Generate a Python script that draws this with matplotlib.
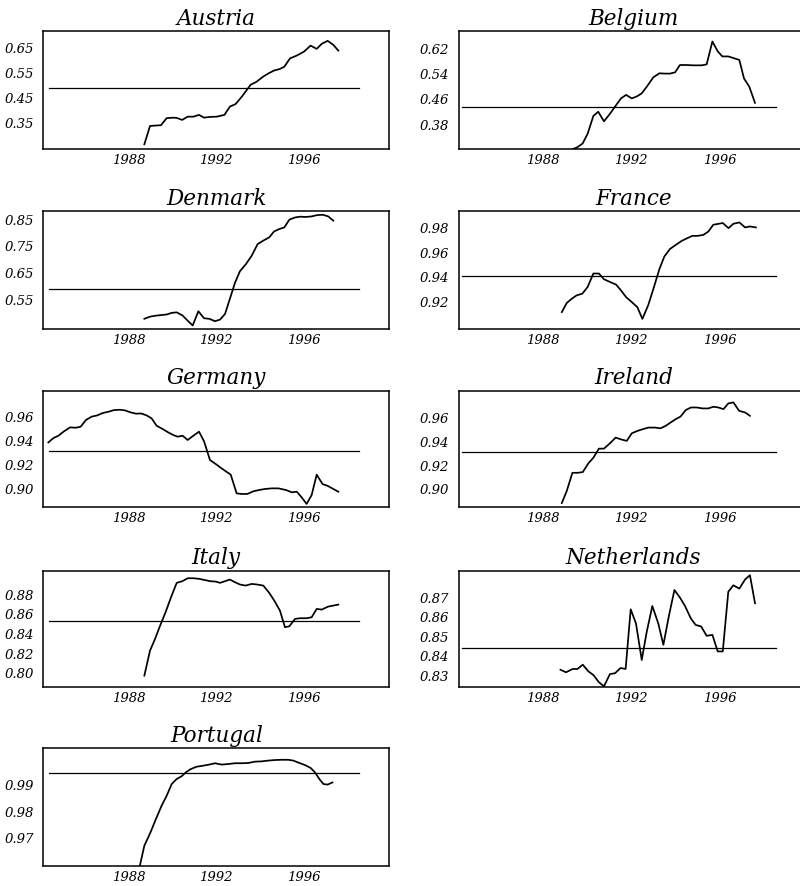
import os
import matplotlib
matplotlib.use("Agg")
import matplotlib.pyplot as plt
from matplotlib import font_manager
from matplotlib.ticker import FixedLocator, FixedFormatter

# Italic serif face: use the DejaVu Serif Italic file shipped with matplotlib
_italic_path = os.path.join(matplotlib.get_data_path(), "fonts", "ttf", "DejaVuSerif-Italic.ttf")
if os.path.exists(_italic_path):
    font_manager.fontManager.addfont(_italic_path)
    def italic_font(size):
        return font_manager.FontProperties(fname=_italic_path, size=size)
else:
    def italic_font(size):
        return font_manager.FontProperties(family="DejaVu Serif", style="italic", size=size)

# ---- data: quarterly observations (decimal year, value) ----
austria_year = [1988.73, 1988.99, 1989.49, 1989.75, 1990.05, 1990.21, 1990.46, 1990.71,
                1990.97, 1991.23, 1991.46, 1991.73, 1992.04, 1992.39, 1992.64, 1992.90,
                1993.18, 1993.59, 1993.86, 1994.17, 1994.44, 1994.67, 1994.93, 1995.13,
                1995.39, 1995.69, 1996.03, 1996.33, 1996.61, 1996.84, 1997.11, 1997.37,
                1997.60]
austria_value = [0.261, 0.334, 0.337, 0.365, 0.367, 0.366, 0.358, 0.371,
                 0.371, 0.378, 0.367, 0.370, 0.371, 0.378, 0.411, 0.421,
                 0.450, 0.498, 0.510, 0.531, 0.545, 0.555, 0.561, 0.570,
                 0.603, 0.614, 0.630, 0.654, 0.641, 0.661, 0.673, 0.657,
                 0.634]

belgium_year = [1989.35, 1989.53, 1989.80, 1990.03, 1990.29, 1990.51, 1990.77, 1991.01,
                1991.27, 1991.54, 1991.77, 1992.03, 1992.28, 1992.48, 1992.73, 1993.00,
                1993.28, 1993.53, 1993.76, 1993.99, 1994.21, 1994.48, 1994.82, 1995.20,
                1995.42, 1995.68, 1995.92, 1996.13, 1996.40, 1996.63, 1996.90, 1997.11,
                1997.35, 1997.61]
belgium_value = [0.301, 0.305, 0.318, 0.349, 0.405, 0.418, 0.388, 0.409,
                 0.434, 0.460, 0.471, 0.460, 0.467, 0.476, 0.499, 0.526,
                 0.539, 0.538, 0.538, 0.542, 0.565, 0.565, 0.564, 0.564,
                 0.567, 0.639, 0.608, 0.592, 0.592, 0.587, 0.581, 0.523,
                 0.497, 0.446]

denmark_year = [1988.73, 1988.99, 1989.29, 1989.52, 1989.75, 1989.98, 1990.21, 1990.48,
                1990.71, 1990.94, 1991.20, 1991.46, 1991.70, 1991.96, 1992.19, 1992.42,
                1992.64, 1992.87, 1993.10, 1993.38, 1993.64, 1993.91, 1994.17, 1994.44,
                1994.66, 1994.90, 1995.13, 1995.36, 1995.62, 1995.85, 1996.12, 1996.38,
                1996.64, 1996.89, 1997.14, 1997.37]
denmark_value = [0.477, 0.485, 0.489, 0.491, 0.493, 0.499, 0.501, 0.489,
                 0.470, 0.452, 0.505, 0.479, 0.477, 0.468, 0.474, 0.495,
                 0.551, 0.610, 0.654, 0.681, 0.712, 0.755, 0.768, 0.780,
                 0.802, 0.811, 0.817, 0.846, 0.854, 0.857, 0.856, 0.858,
                 0.863, 0.864, 0.858, 0.842]

france_year = [1988.86, 1989.08, 1989.31, 1989.53, 1989.79, 1990.03, 1990.29, 1990.54,
               1990.77, 1991.04, 1991.32, 1991.54, 1991.77, 1992.03, 1992.28, 1992.51,
               1992.78, 1993.01, 1993.28, 1993.50, 1993.76, 1994.02, 1994.29, 1994.54,
               1994.77, 1995.01, 1995.27, 1995.50, 1995.72, 1996.15, 1996.41, 1996.63,
               1996.90, 1997.16, 1997.38, 1997.65]
france_value = [0.9106, 0.9180, 0.9216, 0.9243, 0.9257, 0.9312, 0.9422, 0.9422,
                0.9375, 0.9353, 0.9331, 0.9284, 0.9229, 0.9188, 0.9147, 0.9051,
                0.9166, 0.9298, 0.9458, 0.9560, 0.9623, 0.9656, 0.9689, 0.9711,
                0.9730, 0.9730, 0.9738, 0.9766, 0.9821, 0.9835, 0.9793, 0.9829,
                0.9840, 0.9799, 0.9807, 0.9799]

germany_year = [1984.34, 1984.57, 1984.80, 1985.05, 1985.33, 1985.60, 1985.82, 1986.06,
                1986.32, 1986.58, 1986.82, 1987.08, 1987.34, 1987.61, 1987.84, 1988.10,
                1988.35, 1988.58, 1988.83, 1989.06, 1989.29, 1989.57, 1989.82, 1990.05,
                1990.25, 1990.48, 1990.71, 1990.97, 1991.23, 1991.46, 1991.73, 1991.99,
                1992.26, 1992.68, 1992.95, 1993.18, 1993.44, 1993.71, 1993.97, 1994.25,
                1994.55, 1994.86, 1995.21, 1995.47, 1995.70, 1995.92, 1996.15, 1996.38,
                1996.61, 1996.88, 1997.10, 1997.37, 1997.60]
germany_value = [0.9381, 0.9417, 0.9437, 0.9473, 0.9507, 0.9504, 0.9513, 0.9569,
                 0.9597, 0.9608, 0.9627, 0.9638, 0.9652, 0.9655, 0.9650, 0.9633,
                 0.9622, 0.9624, 0.9608, 0.9583, 0.9521, 0.9493, 0.9465, 0.9443,
                 0.9429, 0.9437, 0.9401, 0.9437, 0.9471, 0.9390, 0.9233, 0.9200,
                 0.9163, 0.9110, 0.8953, 0.8948, 0.8948, 0.8970, 0.8981, 0.8990,
                 0.8995, 0.8995, 0.8981, 0.8962, 0.8967, 0.8920, 0.8864, 0.8939,
                 0.9110, 0.9031, 0.9017, 0.8990, 0.8967]

ireland_year = [1988.86, 1989.08, 1989.34, 1989.57, 1989.81, 1990.06, 1990.29, 1990.54,
                1990.77, 1991.04, 1991.30, 1991.52, 1991.80, 1992.03, 1992.28, 1992.52,
                1992.78, 1993.08, 1993.33, 1993.56, 1993.79, 1994.02, 1994.24, 1994.47,
                1994.71, 1994.97, 1995.24, 1995.50, 1995.72, 1995.95, 1996.18, 1996.40,
                1996.63, 1996.89, 1997.16, 1997.38]
ireland_value = [0.8877, 0.8976, 0.9131, 0.9131, 0.9137, 0.9210, 0.9258, 0.9334,
                 0.9334, 0.9379, 0.9427, 0.9413, 0.9399, 0.9463, 0.9483, 0.9497,
                 0.9511, 0.9511, 0.9505, 0.9525, 0.9554, 0.9582, 0.9604, 0.9658,
                 0.9680, 0.9680, 0.9672, 0.9672, 0.9686, 0.9680, 0.9666, 0.9714,
                 0.9723, 0.9652, 0.9638, 0.9610]

italy_year = [1988.73, 1988.99, 1989.22, 1989.44, 1989.70, 1989.95, 1990.21, 1990.47,
              1990.71, 1990.97, 1991.23, 1991.47, 1991.73, 1991.99, 1992.19, 1992.42,
              1992.64, 1992.87, 1993.10, 1993.36, 1993.64, 1993.89, 1994.17, 1994.44,
              1994.67, 1994.93, 1995.16, 1995.36, 1995.62, 1995.85, 1996.15, 1996.38,
              1996.61, 1996.84, 1997.14, 1997.37, 1997.60]
italy_value = [0.7964, 0.8220, 0.8339, 0.8468, 0.8611, 0.8764, 0.8911, 0.8928,
               0.8958, 0.8958, 0.8952, 0.8941, 0.8928, 0.8924, 0.8911, 0.8928,
               0.8945, 0.8918, 0.8894, 0.8883, 0.8900, 0.8894, 0.8883, 0.8809,
               0.8730, 0.8628, 0.8458, 0.8468, 0.8543, 0.8550, 0.8550, 0.8560,
               0.8645, 0.8638, 0.8669, 0.8679, 0.8689]

netherlands_year = [1988.80, 1989.05, 1989.35, 1989.57, 1989.81, 1990.06, 1990.29, 1990.54,
                    1990.77, 1991.04, 1991.27, 1991.52, 1991.75, 1991.98, 1992.22, 1992.48,
                    1992.70, 1992.96, 1993.23, 1993.46, 1993.71, 1993.96, 1994.21, 1994.44,
                    1994.70, 1994.92, 1995.17, 1995.42, 1995.68, 1995.92, 1996.15, 1996.40,
                    1996.63, 1996.90, 1997.16, 1997.38, 1997.61]
netherlands_value = [0.8326, 0.8313, 0.8330, 0.8330, 0.8352, 0.8318, 0.8299, 0.8262,
                     0.8241, 0.8304, 0.8308, 0.8335, 0.8330, 0.8636, 0.8563, 0.8376,
                     0.8517, 0.8653, 0.8563, 0.8454, 0.8602, 0.8735, 0.8696, 0.8653,
                     0.8590, 0.8556, 0.8548, 0.8500, 0.8505, 0.8420, 0.8420, 0.8726,
                     0.8759, 0.8742, 0.8789, 0.8811, 0.8667]

portugal_year = [1988.53, 1988.73, 1988.99, 1989.26, 1989.52, 1989.75, 1989.98, 1990.21,
                 1990.43, 1990.63, 1990.85, 1991.12, 1991.43, 1991.70, 1991.96, 1992.26,
                 1992.57, 1992.87, 1993.18, 1993.48, 1993.79, 1994.09, 1994.40, 1994.70,
                 1995.01, 1995.31, 1995.54, 1995.85, 1996.08, 1996.34, 1996.53, 1996.73,
                 1996.92, 1997.11, 1997.33]
portugal_value = [0.9596, 0.9669, 0.9715, 0.9769, 0.9819, 0.9856, 0.9900, 0.9919,
                  0.9929, 0.9944, 0.9956, 0.9965, 0.9969, 0.9973, 0.9978, 0.9973,
                  0.9975, 0.9978, 0.9978, 0.9979, 0.9984, 0.9985, 0.9988, 0.9990,
                  0.9991, 0.9991, 0.9988, 0.9978, 0.9971, 0.9960, 0.9944, 0.9919,
                  0.9900, 0.9898, 0.9906]

countries = ["Austria", "Belgium", "Denmark", "France", "Germany",
             "Ireland", "Italy", "Netherlands", "Portugal"]
series_years = [austria_year, belgium_year, denmark_year, france_year, germany_year,
                ireland_year, italy_year, netherlands_year, portugal_year]
series_values = [austria_value, belgium_value, denmark_value, france_value, germany_value,
                 ireland_value, italy_value, netherlands_value, portugal_value]
mean_level = [0.487, 0.434, 0.588, 0.940, 0.9311, 0.9308, 0.8526, 0.8440, 0.9940]
y_limits = [(0.241, 0.711), (0.300, 0.671), (0.439, 0.877), (0.8968, 0.9931),
            (0.8836, 0.9815), (0.8841, 0.9821), (0.7845, 0.9037), (0.8236, 0.8835),
            (0.9594, 1.0034)]
y_ticks = [[0.35, 0.45, 0.55, 0.65], [0.38, 0.46, 0.54, 0.62], [0.55, 0.65, 0.75, 0.85],
           [0.92, 0.94, 0.96, 0.98], [0.90, 0.92, 0.94, 0.96], [0.90, 0.92, 0.94, 0.96],
           [0.80, 0.82, 0.84, 0.86, 0.88], [0.83, 0.84, 0.85, 0.86, 0.87],
           [0.97, 0.98, 0.99]]
x_ticks = [1988, 1992, 1996]
mean_span = (1984.35, 1998.55)

# ---- layout (pixel boxes on an 800 x 887 canvas) ----
W, H = 800.0, 887.0
col_px = [(43.3, 389.3), (458.7, 808.0)]
col_xlim = [(1984.11, 1999.93), (1984.19, 2000.01)]
row_px = [(32.3, 150.3), (212.3, 330.0), (391.7, 508.3), (571.5, 688.3), (749.3, 866.7)]

tick_font = italic_font(9.5)
title_font = italic_font(15.5)

fig = plt.figure(figsize=(W / 100, H / 100), dpi=100)
fig.patch.set_facecolor("white")

for i, name in enumerate(countries):
    r, c = divmod(i, 2)
    x0, x1 = col_px[c]
    y0, y1 = row_px[r]
    ax = fig.add_axes([x0 / W, 1 - y1 / H, (x1 - x0) / W, (y1 - y0) / H])
    ax.plot(series_years[i], series_values[i], color="black", lw=1.25,
            solid_joinstyle="round")
    ax.plot(mean_span, [mean_level[i]] * 2, color="black", lw=0.9)
    ax.set_xlim(*col_xlim[c])
    ax.set_ylim(*y_limits[i])
    ax.xaxis.set_major_locator(FixedLocator(x_ticks))
    ax.xaxis.set_major_formatter(FixedFormatter([str(t) for t in x_ticks]))
    ax.yaxis.set_major_locator(FixedLocator(y_ticks[i]))
    ax.yaxis.set_major_formatter(FixedFormatter(["%.2f" % v for v in y_ticks[i]]))
    ax.tick_params(axis="both", length=0)
    ax.tick_params(axis="y", pad=7)
    ax.tick_params(axis="x", pad=3)
    for lab in ax.get_xticklabels() + ax.get_yticklabels():
        lab.set_fontproperties(tick_font)
    for sp in ax.spines.values():
        sp.set_linewidth(1.1)
        sp.set_color("black")
    ax.set_title(name, fontproperties=title_font, pad=5.5)

fig.savefig("out.png", dpi=100, facecolor="white")
